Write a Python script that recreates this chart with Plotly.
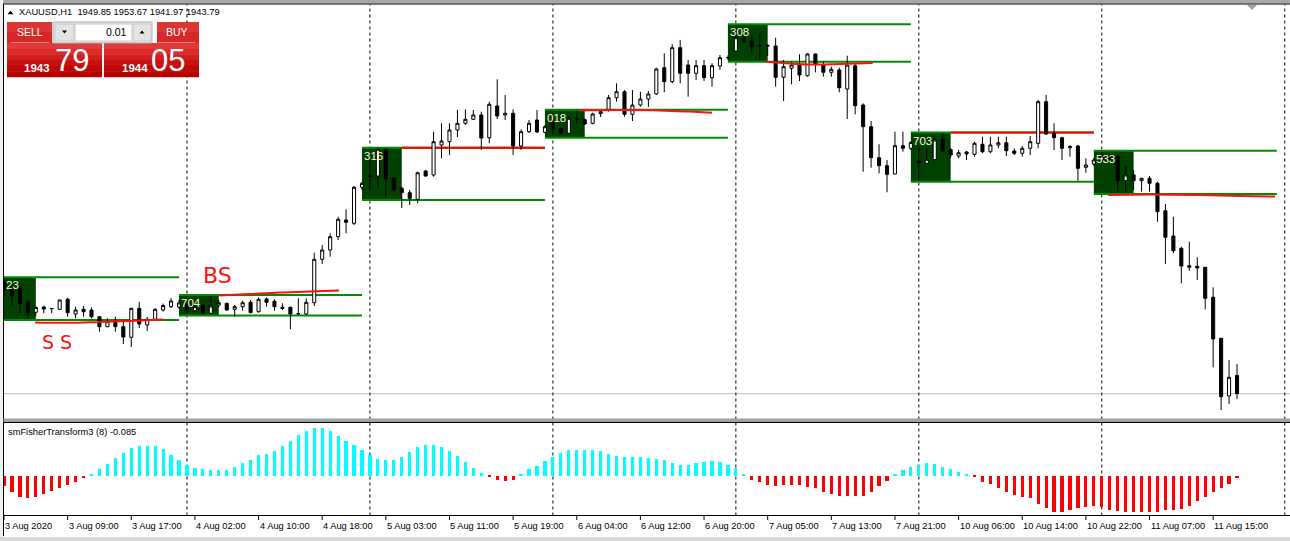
import plotly.graph_objects as go

# ---------------- data ----------------
bar_open = [1980.67,1978.67,1979.43,1974.33,1970.90,1972.67,1972.17,1971.90,1975.23,1970.33,
            1971.90,1971.67,1969.43,1966.10,1967.77,1966.10,1962.57,1972.23,1966.67,1968.57,
            1971.67,1972.77,1972.67,1973.33,1971.43,1973.33,1970.57,1973.33,1973.90,1971.90,
            1972.77,1974.23,1971.10,1975.33,1974.57,1972.57,1972.57,1970.50,1970.33,1974.10,
            1988.57,1991.67,1996.10,2001.67,2000.57,2012.57,2016.33,2016.33,2025.23,2015.67,
            2012.23,2010.77,2008.57,2018.00,2016.67,2026.67,2027.77,2031.67,2033.90,2035.23,
            2036.67,2029.10,2039.67,2036.67,2037.23,2026.33,2031.10,2035.00,2030.90,2034.23,
            2032.23,2030.57,2035.33,2035.10,2033.90,2037.10,2038.57,2042.43,2044.43,2036.90,
            2040.00,2042.00,2043.67,2052.43,2047.77,2059.10,2053.33,2050.57,2053.10,2049.10,
            2053.00,2055.77,2058.00,2062.43,2061.33,2059.77,2059.77,2059.67,2049.23,2052.23,
            2053.57,2049.77,2057.00,2053.33,2050.90,2051.67,2045.33,2053.10,2040.00,2032.77,
            2022.43,2019.77,2017.00,2026.43,2025.57,2021.33,2020.57,2021.83,2028.50,2025.17,
            2023.00,2024.33,2023.57,2026.90,2024.43,2026.67,2027.43,2024.67,2023.90,2025.57,
            2027.23,2041.10,2030.57,2029.10,2025.77,2026.33,2019.23,2020.33,2021.67,2023.00,
            2022.77,2014.77,2016.67,2014.77,2015.57,2013.90,2004.77,1996.33,1992.23,1986.43,
            1986.23,1985.90,1975.90,1962.23,1943.00,1949.85]
bar_high = [1982.33,1980.00,1979.67,1975.00,1973.00,1973.10,1972.33,1975.10,1975.77,1972.77,
            1973.00,1972.57,1969.50,1968.90,1969.43,1967.77,1972.33,1974.43,1969.33,1972.23,
            1973.83,1975.67,1975.00,1974.33,1973.67,1974.00,1976.10,1975.00,1974.10,1973.33,
            1974.77,1975.00,1975.90,1975.77,1975.23,1973.90,1972.77,1975.57,1975.57,1990.77,
            1993.33,1997.23,2002.77,2005.23,2013.00,2014.33,2021.67,2025.67,2025.33,2016.00,
            2012.77,2011.67,2017.77,2018.33,2031.10,2033.90,2033.90,2038.33,2038.57,2038.33,
            2037.77,2041.10,2048.57,2043.33,2038.57,2031.90,2035.00,2038.33,2033.33,2035.00,
            2032.43,2036.10,2036.67,2035.57,2037.43,2038.33,2043.33,2047.23,2045.00,2045.00,
            2044.43,2044.67,2052.43,2057.23,2060.23,2061.67,2055.00,2055.00,2055.00,2053.90,
            2056.67,2056.50,2065.57,2063.90,2063.10,2063.90,2060.33,2062.43,2055.00,2054.43,
            2056.90,2057.23,2057.23,2054.43,2052.77,2052.43,2056.43,2053.90,2040.57,2034.67,
            2026.90,2021.67,2031.10,2031.10,2028.00,2026.10,2025.57,2028.67,2030.57,2025.67,
            2025.00,2024.67,2027.77,2029.43,2029.43,2029.43,2029.43,2025.57,2026.33,2029.67,
            2041.67,2043.33,2033.90,2029.43,2026.67,2026.67,2022.23,2022.33,2024.33,2023.67,
            2023.33,2019.67,2018.33,2015.67,2016.33,2014.43,2007.00,2002.77,1992.77,1994.43,
            1989.23,1985.90,1979.23,1962.23,1955.00,1953.67]
bar_low = [1976.33,1973.33,1970.67,1969.00,1969.67,1970.57,1970.57,1971.67,1969.43,1968.90,
           1969.43,1968.90,1964.43,1966.00,1964.43,1960.33,1959.33,1965.67,1964.67,1968.33,
           1971.10,1972.33,1972.00,1970.67,1971.00,1970.33,1970.50,1972.50,1971.43,1969.43,
           1971.43,1970.57,1970.77,1972.77,1971.43,1971.67,1965.23,1970.00,1970.00,1973.00,
           1987.00,1989.43,1995.00,1997.23,2000.00,2011.67,2011.67,2012.23,2009.00,2011.10,
           2005.67,2006.67,2007.23,2016.10,2016.10,2022.23,2023.33,2029.33,2033.33,2035.00,
           2025.00,2027.23,2035.33,2035.00,2023.33,2025.00,2030.67,2030.67,2030.57,2030.00,
           2030.00,2030.23,2033.90,2033.33,2033.57,2036.00,2037.77,2041.10,2036.10,2034.67,
           2039.43,2039.33,2043.33,2044.23,2047.23,2047.23,2042.77,2048.33,2048.00,2046.10,
           2051.67,2055.00,2057.77,2060.57,2057.77,2055.00,2056.33,2046.10,2041.33,2046.90,
           2048.00,2049.43,2050.90,2049.43,2049.43,2044.23,2035.33,2036.90,2017.77,2019.10,
           2017.23,2010.90,2016.90,2024.43,2025.00,2014.77,2020.23,2021.67,2024.43,2022.33,
           2022.23,2021.67,2022.77,2023.90,2023.90,2025.57,2023.00,2023.33,2022.77,2023.33,
           2025.57,2030.00,2025.00,2021.67,2022.77,2014.77,2017.43,2019.67,2020.67,2021.00,
           2011.10,2011.10,2011.67,2011.10,2011.10,2001.10,1987.00,1990.57,1980.57,1984.77,
           1981.67,1971.90,1952.57,1938.33,1940.33,1941.97]
bar_close = [1978.33,1976.33,1973.90,1970.67,1972.50,1972.00,1972.13,1975.00,1970.77,1971.67,
             1971.10,1969.43,1966.10,1967.77,1966.10,1962.67,1972.23,1967.00,1968.57,1971.90,
             1973.17,1974.67,1974.00,1971.67,1972.77,1970.57,1973.00,1974.10,1971.67,1972.77,
             1974.10,1970.77,1975.23,1974.23,1972.77,1972.23,1970.33,1970.40,1974.23,1988.57,
             1991.67,1996.10,2001.90,2000.90,2012.57,2013.90,2016.20,2025.23,2015.33,2011.67,
             2010.77,2008.90,2017.43,2016.33,2027.77,2028.00,2031.67,2033.90,2035.23,2036.67,
             2029.00,2040.23,2036.33,2037.23,2026.33,2031.10,2033.90,2031.00,2032.77,2032.00,
             2030.57,2035.57,2035.40,2033.67,2037.00,2037.77,2042.43,2044.43,2036.90,2040.00,
             2042.00,2043.67,2052.00,2047.77,2059.10,2050.57,2050.57,2053.10,2049.10,2053.10,
             2055.77,2055.80,2062.43,2061.10,2059.43,2059.70,2059.70,2049.23,2052.77,2053.33,
             2050.00,2057.00,2053.57,2050.90,2051.90,2045.77,2053.33,2039.77,2032.77,2022.43,
             2019.77,2016.90,2026.43,2025.57,2027.50,2020.77,2021.90,2028.33,2024.67,2023.33,
             2024.10,2023.67,2027.23,2024.43,2026.67,2027.43,2024.77,2023.90,2025.57,2027.77,
             2041.10,2030.33,2029.10,2025.57,2026.10,2018.90,2020.00,2021.67,2023.00,2022.00,
             2014.77,2016.67,2014.77,2015.57,2013.90,2004.43,1995.90,1991.43,1986.33,1985.90,
             1985.67,1975.57,1962.00,1942.77,1949.23,1943.79]
fisher = [-0.34,-0.52,-0.68,-0.71,-0.68,-0.59,-0.47,-0.40,-0.31,-0.21,
          -0.07,0.02,0.19,0.37,0.54,0.71,0.87,0.92,0.92,0.92,
          0.83,0.65,0.50,0.33,0.24,0.19,0.16,0.16,0.18,0.26,
          0.40,0.50,0.63,0.68,0.78,0.92,1.09,1.28,1.38,1.48,
          1.48,1.38,1.25,1.09,0.94,0.80,0.63,0.52,0.47,0.50,
          0.59,0.75,0.88,0.96,0.96,0.88,0.77,0.60,0.42,0.24,
          0.08,-0.03,-0.13,-0.16,-0.13,0.03,0.19,0.31,0.44,0.59,
          0.71,0.81,0.81,0.80,0.81,0.77,0.68,0.62,0.58,0.57,
          0.58,0.55,0.52,0.47,0.40,0.34,0.34,0.38,0.41,0.44,
          0.42,0.34,0.23,0.06,-0.13,-0.21,-0.31,-0.33,-0.31,-0.29,
          -0.29,-0.37,-0.40,-0.50,-0.57,-0.63,-0.65,-0.65,-0.63,-0.52,
          -0.33,-0.16,0.02,0.16,0.26,0.33,0.40,0.37,0.26,0.19,
          0.12,0.06,-0.05,-0.19,-0.28,-0.40,-0.50,-0.60,-0.66,-0.71,
          -0.88,-1.02,-1.15,-1.13,-1.09,-1.02,-0.99,-0.96,-0.99,-1.09,
          -1.12,-1.13,-1.13,-1.15,-1.13,-1.13,-1.09,-1.09,-1.04,-0.94,
          -0.81,-0.68,-0.52,-0.40,-0.26,-0.085]
time_labels = ["3 Aug 2020","3 Aug 09:00","3 Aug 17:00","4 Aug 02:00","4 Aug 10:00",
               "4 Aug 18:00","5 Aug 03:00","5 Aug 11:00","5 Aug 19:00","6 Aug 04:00",
               "6 Aug 12:00","6 Aug 20:00","7 Aug 05:00","7 Aug 13:00","7 Aug 21:00",
               "10 Aug 06:00","10 Aug 14:00","10 Aug 22:00","11 Aug 07:00","11 Aug 15:00"]
time_label_bars = [0,8,16,24,32,40,48,56,64,72,80,88,96,104,112,120,128,136,144,152]
day_starts = [0,23,46,69,92,115,138,161]
box_top = [1982.57,1976.67,2025.77,2038.43,2066.90,2030.83,2024.77]
box_bottom = [1968.33,1969.83,2008.33,2029.10,2054.43,2014.43,2010.33]
box_text = ["23","704","316","018","308","703","533"]
box_top_red = [False,False,True,False,False,True,False]
ask_price = 1944.05
# hand-drawn red marks (bar index, price)
ss_line_x = [3.9,8.3,12.1,15.8,20.0];   ss_line_y = [1967.5,1967.4,1967.7,1968.0,1968.5]
bs_line_x = [27.1,30.9,34.7,38.5,42.1]; bs_line_y = [1976.5,1977.0,1977.5,1977.8,1978.2]
b4_line_x = [72.3,77.4,82.5,86.2,89.0]; b4_line_y = [2038.2,2038.3,2038.2,2037.8,2037.4]
b5_line_x = [95.8,98.8,101.3,105.1,109.2]; b5_line_y = [2054.4,2053.8,2053.5,2053.7,2054.0]
b7_line_x = [138.8,144.1,150.3,155.4,159.8]; b7_line_y = [2010.0,2010.2,2010.0,2009.7,2009.5]

# ---------------- geometry ----------------
W, H = 1290, 541
BAR0_PX, BAR_PX = 4.0, 7.955
P0 = 2075.0          # price at pixel row 0, 3 px per dollar
F0_PX, F_SCALE = 475.0, 32.0

def px(x): return x / W
def py(y): return 1 - y / H

idx = list(range(len(bar_open)))
FONT = "Liberation Sans"

fig = go.Figure()

# indicator histogram
fig.add_trace(go.Bar(x=idx, y=fisher, xaxis="x", yaxis="y2", width=0.4,
                     marker=dict(color=["#00FFFF" if v > 0 else "#FF0000" for v in fisher],
                                 line=dict(width=0)),
                     hoverinfo="skip"))
# candles
fig.add_trace(go.Candlestick(x=idx, open=bar_open, high=bar_high, low=bar_low, close=bar_close,
                             xaxis="x", yaxis="y", whiskerwidth=0,
                             increasing=dict(line=dict(color="black", width=1), fillcolor="white"),
                             decreasing=dict(line=dict(color="black", width=1), fillcolor="black"),
                             hoverinfo="skip"))
# hand drawn red lines
for lx, ly in [(ss_line_x, ss_line_y), (bs_line_x, bs_line_y), (b4_line_x, b4_line_y),
               (b5_line_x, b5_line_y), (b7_line_x, b7_line_y)]:
    fig.add_trace(go.Scatter(x=lx, y=ly, mode="lines", xaxis="x", yaxis="y",
                             line=dict(color="#FF1010", width=2, shape="spline"),
                             hoverinfo="skip"))

shapes = []
ann = []

# session boxes + lines
for k in range(len(box_top)):
    d = day_starts[k]
    shapes.append(dict(type="rect", xref="x", yref="y", x0=d - 1, x1=d + 4,
                       y0=box_bottom[k], y1=box_top[k], fillcolor="#004000",
                       line=dict(width=0), layer="below"))
for k in range(len(box_top)):
    d = day_starts[k]
    shapes.append(dict(type="line", xref="x", yref="y", x0=d - 1, x1=d + 22,
                       y0=box_bottom[k], y1=box_bottom[k], line=dict(color="#008C00", width=2),
                       layer="below"))
    shapes.append(dict(type="line", xref="x", yref="y", x0=d - 1, x1=d + 22,
                       y0=box_top[k], y1=box_top[k], line=dict(color="#008C00", width=2),
                       layer="below"))
    if box_top_red[k]:
        shapes.append(dict(type="line", xref="x", yref="y", x0=d + 4, x1=d + 22,
                           y0=box_top[k], y1=box_top[k], line=dict(color="#FF0000", width=2),
                           layer="below"))
    ann.append(dict(x=max(d - 1, 0) + 0.05, y=box_top[k] - 8 / 3, xref="x", yref="y",
                    text=box_text[k], showarrow=False, xanchor="left", yanchor="middle",
                    font=dict(family=FONT, size=11.5, color="#FFF8D8")))

# bid line
shapes.append(dict(type="line", xref="paper", yref="y", x0=px(3), x1=1,
                   y0=bar_close[-1], y1=bar_close[-1], line=dict(color="#C0C0C0", width=1),
                   layer="below"))
# day separators
for d in day_starts[1:]:
    shapes.append(dict(type="line", xref="x", yref="paper", x0=d, x1=d,
                       y0=py(515.5), y1=py(4.5), line=dict(color="black", width=1, dash="3px,3px"),
                       layer="below"))

# frame
shapes.append(dict(type="rect", xref="paper", yref="paper", x0=0, x1=1, y0=py(3.5), y1=1,
                   fillcolor="#A8A8A8", line=dict(width=0)))
shapes.append(dict(type="line", xref="paper", yref="paper", x0=0, x1=1, y0=py(4), y1=py(4),
                   line=dict(color="black", width=1)))
shapes.append(dict(type="line", xref="paper", yref="paper", x0=px(3.5), x1=px(3.5), y0=py(536), y1=py(4),
                   line=dict(color="black", width=1)))
shapes.append(dict(type="rect", xref="paper", yref="paper", x0=0, x1=px(3), y0=0, y1=1,
                   fillcolor="#F0F0F0", line=dict(width=0)))
shapes.append(dict(type="rect", xref="paper", yref="paper", x0=px(3.5), x1=1, y0=py(422), y1=py(418.5),
                   fillcolor="#A0A0A0", line=dict(width=0)))
shapes.append(dict(type="line", xref="paper", yref="paper", x0=px(3.5), x1=1, y0=py(422.5), y1=py(422.5),
                   line=dict(color="black", width=1)))
shapes.append(dict(type="line", xref="paper", yref="paper", x0=px(3.5), x1=1, y0=py(515.5), y1=py(515.5),
                   line=dict(color="black", width=1)))
shapes.append(dict(type="rect", xref="paper", yref="paper", x0=0, x1=1, y0=0, y1=py(537),
                   fillcolor="#D8D8D8", line=dict(width=0)))
shapes.append(dict(type="path", xref="paper", yref="paper",
                   path=f"M {px(1247)},{py(5)} L {px(1257)},{py(5)} L {px(1252)},{py(10)} Z",
                   fillcolor="#A0A0A0", line=dict(width=0)))

# time axis
for b, t in zip(time_label_bars, time_labels):
    shapes.append(dict(type="line", xref="x", yref="paper", x0=b, x1=b, y0=py(515.5), y1=py(520),
                       line=dict(color="black", width=1)))
    ann.append(dict(x=b, y=py(525.5), xref="x", yref="paper", text=t, showarrow=False,
                    xanchor="left", yanchor="middle", xshift=-1,
                    font=dict(family=FONT, size=9.3, color="black")))

# header
def tri(cx, cy, w, h, up, color):
    if up:
        p = f"M {px(cx - w / 2)},{py(cy + h / 2)} L {px(cx + w / 2)},{py(cy + h / 2)} L {px(cx)},{py(cy - h / 2)} Z"
    else:
        p = f"M {px(cx - w / 2)},{py(cy - h / 2)} L {px(cx + w / 2)},{py(cy - h / 2)} L {px(cx)},{py(cy + h / 2)} Z"
    shapes.append(dict(type="path", xref="paper", yref="paper", path=p,
                       fillcolor=color, line=dict(width=0)))

tri(10.5, 12.5, 6, 3.5, True, "black")
hdr = f"XAUUSD,H1\u00a0\u00a0{bar_open[-1]:.2f} {bar_high[-1]:.2f} {bar_low[-1]:.2f} {bar_close[-1]:.2f}"
ann.append(dict(x=px(17), y=py(12.5), xref="paper", yref="paper", text=hdr, showarrow=False,
                xanchor="left", yanchor="middle", font=dict(family=FONT, size=9.3, color="black")))
ann.append(dict(x=px(6), y=py(431.5), xref="paper", yref="paper",
                text=f"smFisherTransform3 (8) {fisher[-1]:.3f}", showarrow=False,
                xanchor="left", yanchor="middle", font=dict(family=FONT, size=9.3, color="black")))

# hand-written marks
ann.append(dict(x=6.6, y=1961.0, xref="x", yref="y", text="S\u00a0S", showarrow=False,
                font=dict(family="DejaVu Sans", size=19, color="#FF1010")))
ann.append(dict(x=26.9, y=1983.3, xref="x", yref="y", text="BS", showarrow=False,
                font=dict(family="DejaVu Sans", size=22, color="#FF1010")))

# one-click trading panel
def prect(x0, y0, x1, y1, fill, lc=None, lw=0):
    shapes.append(dict(type="rect", xref="paper", yref="paper", x0=px(x0), x1=px(x1),
                       y0=py(y1), y1=py(y0), fillcolor=fill,
                       line=dict(width=lw, color=lc or fill)))

grad = ["#E23A3A", "#DA2C2C", "#D11E1E", "#C81212", "#BE0808", "#B40202"]
for (a, b) in [(7, 52), (157, 199)]:
    prect(a, 22, b, 43, "#D62828")
    prect(a, 22, b, 32, "#DE3434")
for (a, b) in [(7, 102), (104, 199)]:
    step = 34 / len(grad)
    for i, c in enumerate(grad):
        prect(a, 43 + i * step, b, 43 + (i + 1) * step + 0.3, c)
shapes.append(dict(type="line", xref="paper", yref="paper", x0=px(11), x1=px(49), y0=py(42.5), y1=py(42.5),
                   line=dict(color="#F08080", width=1)))
shapes.append(dict(type="line", xref="paper", yref="paper", x0=px(158), x1=px(195), y0=py(42.5), y1=py(42.5),
                   line=dict(color="#F08080", width=1)))
prect(53, 22, 152, 43, "#E8E8E8", "#B0B0B0", 1)
prect(55, 24, 74, 41, "#E4E4E4", "#C8C8C8", 1)
prect(75, 24, 132, 41, "white", "#C8C8C8", 1)
prect(133, 24, 151, 41, "#E4E4E4", "#C8C8C8", 1)
tri(64.5, 32, 5, 3, False, "black")
tri(142, 32, 5, 3, True, "black")
ann.append(dict(x=px(129), y=py(32.5), xref="paper", yref="paper", text="0.01", showarrow=False,
                xanchor="right", yanchor="middle", font=dict(family=FONT, size=10.5, color="black")))
ann.append(dict(x=px(29.5), y=py(32.5), xref="paper", yref="paper", text="SELL", showarrow=False,
                xanchor="center", yanchor="middle", font=dict(family=FONT, size=10.5, color="white")))
ann.append(dict(x=px(177), y=py(32.5), xref="paper", yref="paper", text="BUY", showarrow=False,
                xanchor="center", yanchor="middle", font=dict(family=FONT, size=10.5, color="white")))
for p, xs, xb in [(bar_close[-1], 36.5, 72), (ask_price, 134.5, 167.5)]:
    big, small = f"{p:.2f}".split(".")
    ann.append(dict(x=px(xs), y=py(68), xref="paper", yref="paper", text=f"<b>{big}</b>",
                    showarrow=False, xanchor="center", yanchor="middle",
                    font=dict(family=FONT, size=11.5, color="white")))
    ann.append(dict(x=px(xb), y=py(61), xref="paper", yref="paper", text=small,
                    showarrow=False, xanchor="center", yanchor="middle",
                    font=dict(family=FONT, size=31, color="white")))

fig.update_layout(
    width=W, height=H, margin=dict(l=0, r=0, t=0, b=0),
    paper_bgcolor="white", plot_bgcolor="white", showlegend=False,
    boxgap=0.45, bargap=0,
    xaxis=dict(range=[-BAR0_PX / BAR_PX, (W - BAR0_PX) / BAR_PX], domain=[0, 1], visible=False,
               rangeslider=dict(visible=False), anchor="y", fixedrange=True),
    yaxis=dict(domain=[py(419), py(4)], range=[P0 - 419 / 3, P0 - 4 / 3], visible=False,
               fixedrange=True),
    yaxis2=dict(domain=[py(515.5), py(422.5)],
                range=[(F0_PX - 515.5) / F_SCALE, (F0_PX - 422.5) / F_SCALE],
                visible=False, anchor="x", fixedrange=True),
    shapes=shapes, annotations=ann,
)
fig.write_html("out.html")
